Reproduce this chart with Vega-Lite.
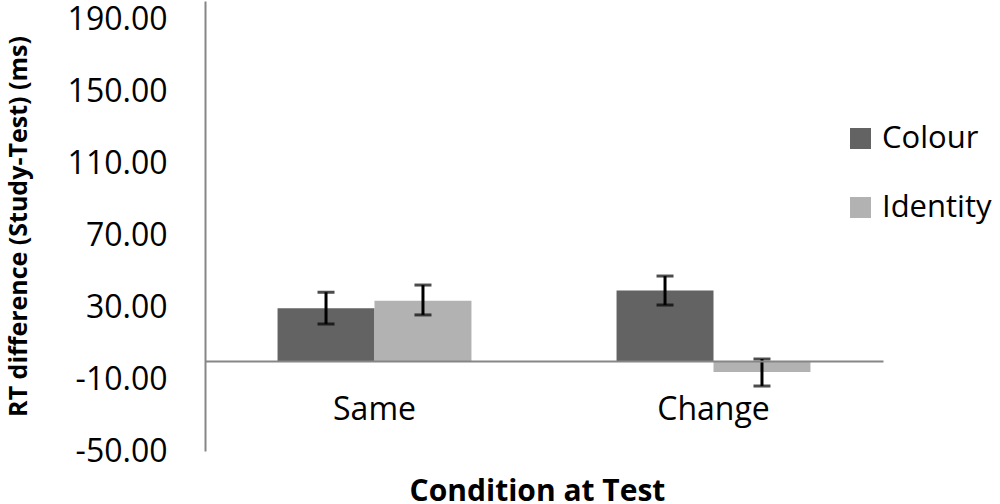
{
  "$schema": "https://vega.github.io/schema/vega-lite/v6.json",
  "width": 678,
  "height": 450,
  "autosize": "none",
  "padding": {"left": 205, "top": 1, "right": 117, "bottom": 53},
  "background": "white",
  "config": {"font": "Open Sans", "view": {"stroke": null}},
  "data": {
    "values": [
      {"cond": "Same", "series": "Colour", "mean": 29.3, "lo": 20.6, "hi": 38.2},
      {"cond": "Same", "series": "Identity", "mean": 33.5, "lo": 25.6, "hi": 42.2},
      {"cond": "Change", "series": "Colour", "mean": 39.1, "lo": 31.1, "hi": 47.2},
      {"cond": "Change", "series": "Identity", "mean": -6.1, "lo": -13.9, "hi": 1.1}
    ]
  },
  "encoding": {
    "x": {
      "field": "cond",
      "type": "nominal",
      "sort": ["Same", "Change"],
      "title": "Condition at Test",
      "scale": {"paddingInner": 0.428, "paddingOuter": 0.214},
      "axis": {
        "orient": "bottom",
        "offset": -90,
        "zindex": 1,
        "domainColor": "#868686",
        "domainWidth": 2,
        "ticks": false,
        "labelAngle": 0,
        "labelFontSize": 32,
        "labelColor": "black",
        "labelPadding": 33,
        "titleFontSize": 30,
        "titleFontWeight": "bold",
        "titleColor": "black",
        "titlePadding": 51,
        "titleX": 332
      }
    },
    "xOffset": {"field": "series", "sort": ["Colour", "Identity"], "scale": {"paddingInner": 0}}
  },
  "layer": [
    {
      "mark": {"type": "bar"},
      "encoding": {
        "y": {
          "field": "mean",
          "type": "quantitative",
          "title": "RT difference (Study-Test) (ms)",
          "scale": {"domain": [-50, 200], "nice": false},
          "axis": {
            "values": [-50, -10, 30, 70, 110, 150, 190],
            "labelExpr": "replace(format(datum.value, '.2f'), '\u2212', '-')",
            "grid": false,
            "ticks": false,
            "domainColor": "#868686",
            "domainWidth": 2,
            "labelFontSize": 32,
            "labelColor": "black",
            "labelPadding": 38,
            "titleFontSize": 25,
            "titleFontWeight": "bold",
            "titleColor": "black",
            "titlePadding": 36
          }
        },
        "color": {
          "field": "series",
          "type": "nominal",
          "scale": {"domain": ["Colour", "Identity"], "range": ["#636363", "#b2b2b2"]},
          "legend": {
            "title": null,
            "orient": "none",
            "legendX": 640,
            "legendY": 122,
            "symbolType": "square",
            "symbolSize": 441,
            "symbolStrokeWidth": 0,
            "labelFontSize": 31,
            "labelColor": "black",
            "labelOffset": 6,
            "rowPadding": 37
          }
        }
      }
    },
    {
      "mark": {"type": "rule", "color": "black", "strokeWidth": 3},
      "encoding": {
        "y": {"field": "lo", "type": "quantitative"},
        "y2": {"field": "hi"}
      }
    },
    {
      "mark": {"type": "tick", "color": "black", "thickness": 3, "size": 17, "orient": "horizontal"},
      "encoding": {"y": {"field": "lo", "type": "quantitative"}}
    },
    {
      "mark": {"type": "tick", "color": "black", "thickness": 3, "size": 17, "orient": "horizontal"},
      "encoding": {"y": {"field": "hi", "type": "quantitative"}}
    }
  ]
}
